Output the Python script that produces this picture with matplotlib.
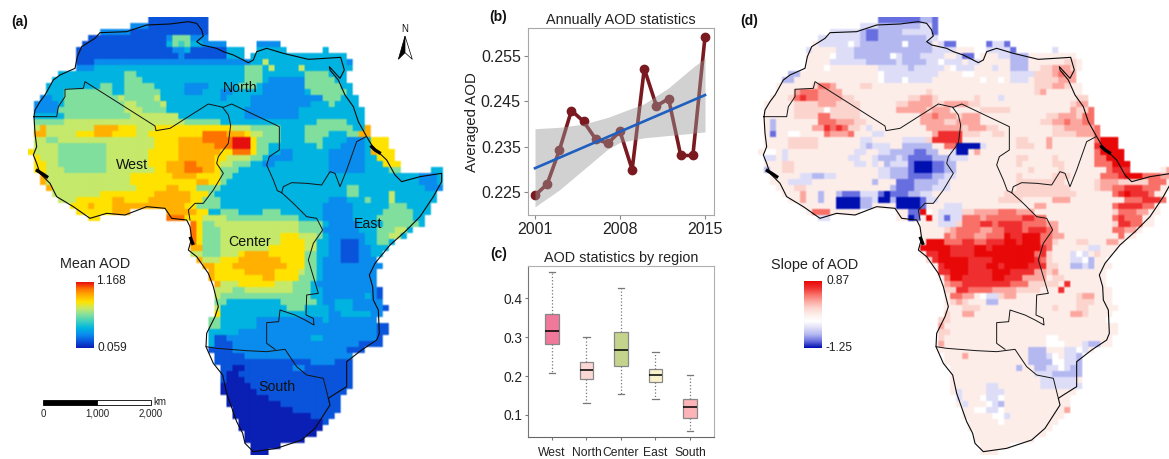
import numpy as np
import matplotlib
matplotlib.use('Agg')
import matplotlib.pyplot as plt
from matplotlib.colors import LinearSegmentedColormap
from matplotlib.patches import Rectangle, Polygon

plt.rcParams['font.family'] = ['Liberation Sans', 'DejaVu Sans']

# Map cells, one string per row. A token is level + count, _N skips N cells
LEVELS_A = "0123456789a"
COLORS_A = ['#0a1fb4', '#0a55dc', '#0a8cee', '#00b4e0', '#3cd0c0', '#80dfa0',
            '#c6e96a', '#ffe400', '#ffb000', '#ff7400', '#e60f10']
LEVELS_D = "ABCDW.12345"
COLORS_D = ['#0010b0', '#6a70e0', '#b4b8f0', '#dedef8', '#ffffff', '#fdeeea',
            '#fcd4ce', '#fca8a0', '#f87068', '#f03030', '#e80808']

ROWS_A = [
    "_20 1x10",
    "_17 2x3 1x10",
    "_12 2x5 1x13",
    "_10 1x13 2x1 5x3 2x3",
    "_9 1x14 3x1 5x1 4x1 5x1 3x2 2x4 _5 2x4",
    "_8 1x16 2x2 3x1 1x6 3x3 _2 3x5 _6 3x1",
    "_8 1x17 2x1 1x7 3x3 _1 3x16",
    "_8 1x3 2x26 3x2 6x1 3x13 2x1",
    "_8 2x3 3x25 5x3 3x1 6x1 3x4 6x1 3x8",
    "_5 3x11 5x2 3x18 5x3 3x7 5x4 3x3",
    "_4 3x12 5x3 3x17 5x3 3x1 2x6 5x5 3x2",
    "_3 3x9 5x2 3x2 5x5 3x5 2x4 3x5 5x3 3x1 2x7 5x6 3x2",
    "_3 3x3 5x8 3x2 5x6 3x4 2x3 3x3 2x2 3x5 2x7 3x1 5x6 3x1",
    "_2 2x2 3x2 5x9 6x1 5x5 6x1 3x10 2x1 3x4 2x12 5x3 3x3",
    "_1 2x4 3x1 5x10 6x2 5x4 6x1 3x9 3x5 2x10 3x3 5x1 3x4",
    "_1 2x4 5x11 6x3 5x4 3x13 2x9 3x11",
    "_1 3x5 5x11 6x8 3x11 2x9 3x11",
    "_1 5x5 6x20 5x6 3x16 5x5 3x3",
    "_1 6x1 8x1 6x8 8x4 7x3 6x3 7x13 6x3 5x5 3x4 5x8 3x2 8x1",
    "_1 8x2 6x5 7x3 8x3 7x4 6x2 7x9 9x4 8x3 7x1 6x2 5x3 3x4 5x4 3x3 5x2 8x2",
    "_1 6x2 5x2 6x10 6x6 7x4 8x4 9x5 ax3 7x1 5x4 3x4 5x3 3x4 2x3 3x1 7x3",
    "_1 6x4 5x8 6x8 7x4 8x6 9x3 ax3 7x1 5x2 3x8 5x1 3x3 2x4 3x1 7x3",
    "7x1 6x4 5x8 6x7 7x5 8x7 7x2 9x3 7x1 5x2 3x2 2x2 3x6 2x6 3x1 8x1 7x3",
    "_1 7x1 6x3 5x8 6x7 7x5 8x6 7x2 6x4 5x2 3x1 2x4 3x6 2x6 3x2 7x3",
    "_1 7x2 6x2 5x8 6x7 7x3 8x3 9x2 8x3 7x1 6x2 5x3 3x2 2x2 3x9 2x6 3x3 7x3",
    "_1 7x2 6x3 5x7 6x8 7x2 8x3 9x3 8x2 7x1 5x3 3x15 2x6 3x4 5x2 _5 3x2",
    "_2 8x1 6x14 7x7 8x4 7x4 5x2 3x31 2x3 3x1",
    "_2 8x1 6x14 7x11 8x2 7x2 5x1 3x32 2x3 3x1",
    "_3 8x1 6x14 7x5 8x2 7x3 5x4 3x21 5x2 3x11 2x3",
    "_4 6x8 7x9 8x6 7x3 5x1 3x22 5x2 3x5 6x1 3x7",
    "_5 6x3 7x6 8x2 7x4 8x7 7x2 5x3 3x18 2x3 3x2 3x1 5x1 3x3 6x1 3x7",
    "_7 7x3 8x1 7x3 8x12 7x2 5x4 3x17 2x5 3x6 5x3 3x4",
    "_8 7x6 8x3 _6 8x5 7x2 3x2 5x3 3x4 5x3 3x7 2x5 3x5 5x5 3x3",
    "_10 7x2 _11 9x3 7x3 6x4 5x12 3x4 2x5 3x4 5x6 3x2",
    "_27 9x1 7x1 5x2 6x14 5x4 3x1 2x5 3x4 5x6 3x1",
    "_27 9x1 7x1 5x3 6x13 5x4 2x6 3x3 5x3 6x2 3x1",
    "_27 9x1 7x1 5x3 6x10 7x3 6x3 5x1 3x1 2x6 3x2 5x2 6x2 3x1",
    "_27 9x1 7x1 5x3 6x10 7x4 6x2 3x2 2x2 1x3 2x1 3x2 5x2 3x1",
    "_27 8x2 5x3 6x8 7x6 6x2 3x2 2x2 1x3 2x2 3x3",
    "_27 6x2 5x3 6x3 7x1 8x4 7x6 5x2 3x2 2x2 1x3 2x2 3x2",
    "_28 8x1 6x3 7x3 8x7 7x4 5x2 3x1 2x3 1x3 2x3",
    "_29 8x2 7x3 8x9 7x3 5x2 3x1 2x10",
    "_30 8x1 7x5 8x5 7x4 6x1 5x2 3x1 2x9",
    "_30 8x1 7x8 8x2 7x4 5x3 3x1 2x9",
    "_31 8x1 6x3 7x6 6x3 5x3 3x1 2x10",
    "_31 6x3 5x2 6x8 5x3 3x2 2x9 1x1",
    "_31 6x1 5x15 3x2 2x7 3x1 2x1 1x1",
    "_31 5x2 3x9 5x6 3x1 2x2 3x3 2x5",
    "_31 6x1 3x11 5x3 3x4 2x1 3x3 2x5 1x1",
    "_31 7x1 3x18 2x2 3x5 2x2",
    "_30 5x2 3x6 2x11 3x1 2x8",
    "_30 5x2 3x6 2x20 1x2",
    "_30 3x5 2x23 1x2",
    "_30 3x1 1x2 2x14 3x2 2x9 1x1",
    "_30 3x1 1x3 2x21 1x4",
    "_30 1x4 2x19 1x3",
    "_31 1x5 2x18",
    "_31 1x16 2x4 1x3",
    "_32 1x2 0x2 1x8 2x2 1x8",
    "_32 1x1 0x2 1x19",
    "_32 1x1 0x3 1x18",
    "_32 0x5 1x17",
    "_32 0x6 1x15",
    "_33 0x7 1x12",
    "_33 0x9 1x10",
    "_34 0x10 1x8",
    "_34 0x13 1x4",
    "_35 0x14 1x1",
    "_35 0x14",
    "_36 0x12",
    "_36 0x10",
    "_37 0x5",
    "_37 0x3",
]

# Panel d uses the same land cells, only cells that differ from the pale base are listed
ROWS_D = [
    "_20 B7 C2 B1",
    "_17 D3 C7 D2 B1",
    "_12 D5 C1 B2 C4 D5 B1",
    "_10 D7 C1 B2 C8 D2",
    "_10 D5 W1 D1 C7 W1 C4 _1 D1 B2 _5 B1 D2 B1",
    "_8 D1 _4 D3 C13 D4 _4 D5 B3 _4 D1",
    "_12 W1 D3 C6 W1 D1 C3 D4 _2 D1 B3 _3 D2 C3",
    "_12 D6 C5 D1 C4 D2 W1 D3 _1 D2 _5 C3 _6 1x2",
    "_11 W1 _8 D5 C1 D5 _1 W1 D3 _3 D1 _2 C3 _2 1x2 2x3 1x1",
    "_5 C2 _13 W1 D9 _4 W2 _6 D4 1x3 2x1 3x1 2x2",
    "_4 C2 _14 W1 D3 W1 D4 _8 W1 _2 W1 _1 D3 _1 1x4 2x3",
    "_9 1x1 3x2 2x1 _4 1x2 _27 1x3 2x2 1x1",
    "_6 2x1 3x3 2x4 _14 1x1 _17 1x1 2x1",
    "_5 1x1 3x1 4x1 3x2 2x4 1x2 _9 1x2 2x2 1x1 _6 1x1 _3 D1 _12 1x2",
    "_6 1x4 2x3 1x4 _6 1x2 2x4 1x2 2x4 1x2 _15 1x1 2x2",
    "_6 1x5 W1 1x5 _6 2x5 1x1 2x3 _5 1x5 _10 2x1 1x2 3x2",
    "_6 1x4 3x2 1x5 _10 2x2 3x1 2x3 1x1 2x3 _11 1x2 2x3 1x1 3x2",
    "_2 C1 _7 3x3 2x3 1x2 _9 2x4 1x2 2x1 2x3 _10 1x2 2x2 3x1 2x2 3x2",
    "_2 C1 _6 2x2 4x1 3x1 4x1 3x1 1x2 _1 D1 _9 2x6 1x1 2x3 1x2 _9 1x2 2x5 3x1 4x1",
    "_2 B1 _2 W2 _4 3x1 2x3 3x1 _3 D2 _8 2x1 4x4 1x3 _2 1x2 _8 1x4 2x3 3x1 4x2",
    "_5 1x5 _7 D2 _5 D4 1x1 4x5 _9 1x2 _3 2x1 _7 3x1 5x3",
    "_5 1x5 _7 D1 C1 D3 _2 C5 _2 3x2 A4 D1 _5 1x3 _2 2x1 _7 4x1 5x3",
    "_1 W2 _1 D1 _11 D2 _2 D2 C4 B2 C2 _2 D1 A2 _1 2x1 _19 3x1 5x4",
    "_1 D2 _1 D1 _10 D2 _2 D1 C3 D1 C1 B4 C3 D3 _8 1x2 _4 1x1 _6 3x2 5x3",
    "_4 1x2 _10 D2 _1 D1 _1 C1 D3 B1 A3 B2 C2 _10 1x1 _5 1x2 _5 3x3 5x3",
    "_1 C1 _2 1x2 _14 D2 C3 B1 A3 B2 C2 _12 1x1 _4 1x1 _7 3x1 4x3 4x1 _5 2x2",
    "_1 C1 _5 D2 C2 D2 _7 D2 C2 C1 B4 C2 D2 _10 1x1 _5 1x3 _5 3x3 4x1 5x3 3x3 2x2",
    "_5 D4 _10 C1 _3 B3 C4 D2 _11 1x8 _5 1x1 2x3 1x5 3x3",
    "_6 1x2 _14 C1 B3 C3 D3 _11 1x9 _4 1x1 2x2 3x2 4x3 3x3",
    "_7 2x1 _2 C1 _2 C1 B3 D3 B1 A1 B3 C2 D2 _12 1x12 _6 3x1 4x1 5x1 4x3 3x1",
    "_7 2x1 _2 C1 _2 A4 C2 D1 A2 C1 A4 B1 D2 _10 1x1 1x3 _5 2x3 _9 3x3 4x3 3x2",
    "_13 A4 C2 _4 A4 B1 _3 D3 _12 2x2 _11 3x1 4x4 3x2",
    "_9 3x3 _13 B2 5x1 W1 _1 D4 1x2 2x4 3x3 2x3 _13 1x1 3x3 2x2",
    "_10 D2 _13 A1 B1 _1 5x1 _1 D1 B1 D2 3x3 2x1 3x6 4x2 3x2 _11 3x1 4x1 3x3",
    "_30 D3 1x1 3x3 4x2 3x1 4x4 3x4 2x2 _9 1x1 4x2 3x2",
    "_31 1x1 2x1 3x4 2x2 3x2 4x3 3x1 4x3 3x1 2x1 _9 3x2 2x2",
    "_31 3x1 2x1 3x3 2x2 3x3 5x1 4x2 5x3 3x2 2x2 _9 3x1",
    "_28 5x3 3x3 4x2 3x2 4x3 5x2 4x1 5x3 3x2 1x1 _3 1x2 _3 2x2",
    "_27 5x5 4x4 5x2 4x1 5x8 4x1 3x1 _6 D2",
    "_28 4x2 5x2 4x4 5x10 3x1 4x1 1x1 _3 D1 W1 D1 _1 1x1",
    "_28 1x1 4x1 5x5 4x4 5x6 5x1 4x1 3x1 1x1 _3 D2 W1 C1",
    "_30 4x1 5x4 4x3 5x2 4x1 5x4 4x3 1x2 _2 C2 D1 C1",
    "_30 4x2 5x3 4x4 5x3 4x4 2x2 1x1 2x1",
    "_31 3x1 5x2 4x5 5x2 4x3 2x4 _1 1x2",
    "_31 2x1 3x2 4x8 3x3 1x5 _1 4x1",
    "_31 1x2 4x2 3x4 2x4 1x4 _3 4x1",
    "_32 3x2 2x2 _1 W1 D2 1x1 2x2 _10 1x1 2x2",
    "_32 1x1 2x1 1x1 _3 C2 _13 1x3",
    "_34 1x3 _12 1x1 _3 1x2",
    "_31 1x1 _2 2x2 _16 2x2 1x1",
    "_30 1x2",
    "_30 2x1",
    "_30 1x2",
    "_30 1x1 _17 W2",
    "_30 2x1 _17 W3 _3 D1 C2",
    "_45 C3 _3 D2 W1 D1",
    "_34 2x1 _10 C3 D1 W1 _1 D2 C1",
    "_45 C4 W2 D2 C2",
    "_43 C1 _2 C2 D2 W1 D1 C2",
    "_46 D3 C5",
    "_47 D6",
    "_38 D2 _7 D7",
    "_33 D1 _4 D3",
    "_33 D1 _3 W1 D2 W1",
    "_34 D1 _3 W1 D1 C1",
    "_36 W2 D2 W1 _10 2x1",
    "_39 W2 D1",
    "_40 W1",
]

# Outlines in map units
COAST = [(102, 350), (105, 330), (120, 305), (135, 285), (160, 240), (180, 225), (225, 205), (232, 170), (245, 140),
         (285, 115), (300, 98), (380, 95), (440, 75), (510, 72), (565, 65), (590, 70), (605, 90), (610, 108), (590, 125),
         (605, 135), (650, 145), (670, 155), (700, 165), (745, 188), (760, 180), (770, 155), (800, 145), (850, 160),
         (925, 178), (975, 175), (1022, 172), (1033, 210), (1020, 235), (988, 200), (990, 210), (1015, 240), (1035, 285),
         (1060, 320), (1075, 365), (1100, 410), (1118, 440), (1160, 480), (1185, 525), (1205, 545), (1260, 530),
         (1325, 520), (1325, 545), (1300, 590), (1260, 650), (1215, 695), (1170, 735), (1125, 790), (1108, 825),
         (1118, 860), (1120, 900), (1135, 930), (1138, 1000), (1130, 1020), (1085, 1050), (1040, 1085), (1040, 1160),
         (1000, 1185), (985, 1195), (990, 1215), (945, 1285), (905, 1320), (830, 1345), (760, 1355), (735, 1330),
         (728, 1300), (710, 1265), (680, 1180), (668, 1125), (640, 1090), (618, 1040), (620, 1000), (645, 950),
         (655, 920), (640, 860), (625, 820), (590, 770), (565, 750), (575, 715), (570, 680), (560, 660), (515, 655),
         (495, 625), (440, 620), (375, 645), (320, 640), (270, 655), (220, 620), (170, 590), (150, 550), (120, 520),
         (110, 490), (100, 465), (110, 440), (105, 400), (102, 350)]
BORDER_WEST_NORTH = [(102, 350), (170, 350), (175, 320), (195, 290), (195, 268), (250, 265), (255, 245), (465, 378),
                     (468, 392), (510, 385), (625, 312), (670, 322), (695, 312), (838, 380), (838, 450), (808, 470),
                     (800, 495), (820, 540), (832, 572), (845, 578)]
BORDER_WEST_CENTER = [(668, 322), (685, 345), (692, 375), (685, 430), (655, 470), (650, 490), (670, 520), (640, 570),
                      (610, 610), (585, 610), (565, 630), (570, 660)]
BORDER_NORTH_EAST = [(1098, 410), (1070, 425), (1040, 510), (1020, 560), (1005, 520), (990, 515), (965, 555),
                     (920, 550), (875, 548), (850, 560), (845, 578)]
BORDER_CENTER_EAST = [(845, 578), (880, 610), (920, 650), (950, 655), (968, 690), (940, 730), (925, 780), (955, 880),
                      (920, 885), (918, 945), (940, 955), (942, 975), (915, 960), (885, 945), (840, 930), (836, 965),
                      (800, 968), (800, 1030), (825, 1048)]
BORDER_SOUTH = [(618, 1040), (650, 1045), (740, 1052), (800, 1055), (855, 1048), (890, 1100), (920, 1125), (970, 1135),
                (985, 1195)]
ISLANDS = [[(112, 512), (125, 520), (140, 530)], [(1115, 440), (1125, 450), (1138, 458)], [(572, 715), (578, 730)]]

REGION_NAMES = ["North", "West", "Center", "East", "South"]
REGION_X = [720, 395, 750, 1105, 830]
REGION_Y = [265, 495, 725, 673, 1162]

# Panel b
YEARS = [2001, 2002, 2003, 2004, 2005, 2006, 2007, 2008, 2009, 2010, 2011, 2012, 2013, 2014, 2015]
AOD_MEAN = [.2243, .2268, .2342, .2430, .2406, .2367, .2358, .2384, .2300, .2522, .2440, .2456, .2331, .2331, .2592]
TREND_YEARS = [2001, 2015]
TREND_VALUES = [.2303, .2464]
BAND_YEARS = [2001, 2003, 2005, 2007, 2008, 2010, 2012, 2014, 2015]
BAND_UP = [.2390, .2393, .2400, .2415, .2425, .2445, .2480, .2525, .2545]
BAND_LOW = [.2218, .2255, .2300, .2345, .2360, .2370, .2375, .2380, .2383]

# Panel c
REGIONS = ["West", "North", "Center", "East", "South"]
WHISK_LOW = [.207, .130, .154, .141, .059]
Q1 = [.282, .193, .227, .185, .091]
MEDIAN = [.317, .215, .266, .203, .120]
Q3 = [.360, .237, .313, .219, .142]
WHISK_HIGH = [.469, .300, .427, .263, .204]
BOX_COLORS = ['#f0789a', '#fcd8d4', '#c4d48c', '#faf2cc', '#fcb4b8']

W, H = 1169, 459


def parse_rows(rows, levels, base=None):
    grid = np.full((len(ROWS_A), 70), np.nan) if base is None else base.copy()
    for r, spec in enumerate(rows):
        col = 0
        for tok in spec.split():
            n = int(tok[1:].lstrip('x'))
            if tok[0] != '_':
                grid[r, col:col + n] = levels.index(tok[0])
            col += n
    return grid


def px_axes(fig, left, top, right, bottom):
    return fig.add_axes([left / W, 1 - bottom / H, (right - left) / W, (bottom - top) / H])


def draw_outlines(ax, dx):
    for line in [BORDER_WEST_NORTH, BORDER_WEST_CENTER, BORDER_NORTH_EAST, BORDER_CENTER_EAST, BORDER_SOUTH]:
        xy = np.array(line)
        ax.plot(xy[:, 0] + dx, xy[:, 1], color='#151515', lw=0.7, solid_joinstyle='round')
    xy = np.array(COAST)
    ax.plot(xy[:, 0] + dx, xy[:, 1], color='#0a0a0a', lw=0.8, solid_joinstyle='round')
    for isl in ISLANDS:
        xy = np.array(isl)
        ax.plot(xy[:, 0] + dx, xy[:, 1], color='black', lw=2.4)


def draw_colorbar(ax, cmap, x0, x1, y0, y1):
    grad = np.linspace(1, 0, 200).reshape(-1, 1)
    ax.imshow(grad, cmap=cmap, vmin=0, vmax=1, extent=(x0, x1, y1, y0), aspect='auto', interpolation='bilinear')


# Each cell is split in 3 so that bilinear only softens its edges, as in the scanned figure
def soft_rgb(grid, cmap):
    rgb = cmap(np.ma.masked_invalid(grid / 10))
    return np.repeat(np.repeat(rgb, 3, axis=0), 3, axis=1)


fig = plt.figure(figsize=(W / 100, H / 100), dpi=100)
bg = fig.add_axes([0, 0, 1, 1])
bg.axis('off')

cmap_a = LinearSegmentedColormap.from_list('aod', COLORS_A)
cmap_d = LinearSegmentedColormap.from_list('slope', COLORS_D)
cmap_a.set_bad('white')
cmap_d.set_bad('white')

grid_a = parse_rows(ROWS_A, LEVELS_A)
mask = np.isnan(grid_a)
base_d = np.where(mask, np.nan, float(LEVELS_D.index('.')))
grid_d = parse_rows(ROWS_D, LEVELS_D, base_d)
grid_d[mask] = np.nan

X0, Y0, CELL = 85, 52, 18
DX = 2190
ext_a = (X0, X0 + 70 * CELL, Y0 + 73 * CELL, Y0)
ext_d = (X0 + DX, X0 + DX + 70 * CELL, Y0 + 73 * CELL, Y0)
bg.imshow(soft_rgb(grid_a, cmap_a), extent=ext_a, aspect='auto', interpolation='bilinear')
bg.imshow(soft_rgb(grid_d, cmap_d), extent=ext_d, aspect='auto', interpolation='bilinear')
draw_outlines(bg, 0)
draw_outlines(bg, DX)

draw_colorbar(bg, cmap_a, 227, 280, 845, 1043)
draw_colorbar(bg, cmap_d, 223 + DX, 275 + DX, 845, 1045)
bg.set_xlim(0, W * 3)
bg.set_ylim(H * 3, 0)

for name, x, y in zip(REGION_NAMES, REGION_X, REGION_Y):
    bg.text(x, y, name, fontsize=10.2, ha='center', va='center', color='#111111')
bg.text(285, 793, "Mean AOD", fontsize=10.4, ha='center', va='center', color='#222222')
bg.text(332, 844, "1.168", fontsize=8.6, ha='center', va='center', color='#222222')
bg.text(337, 1043, "0.059", fontsize=8.6, ha='center', va='center', color='#222222')
bg.text(253 + DX, 796, "Slope of AOD", fontsize=10.4, ha='center', va='center', color='#222222')
bg.text(324 + DX, 844, "0.87", fontsize=8.6, ha='center', va='center', color='#222222')
bg.text(328 + DX, 1043, "-1.25", fontsize=8.6, ha='center', va='center', color='#222222')

for label, x, y in [("(a)", 60, 66), ("(d)", 57 + DX, 64), ("(b)", 115 + 1380, 52), ("(c)", 115 + 1380, 58 + 705)]:
    bg.text(x, y, label, fontsize=10, fontweight='bold', ha='center', va='center', color='#111111')

# scale bar
bg.add_patch(Rectangle((130, 1200), 162, 15, fc='black', ec='black', lw=0.6))
bg.add_patch(Rectangle((292, 1200), 160, 15, fc='white', ec='black', lw=0.6))
for lab, x in [("0", 130), ("1,000", 292), ("2,000", 452)]:
    bg.text(x, 1241, lab, fontsize=7, ha='center', va='center', color='#222222')
bg.text(480, 1206, "km", fontsize=7, ha='center', va='center', color='#222222')

# north arrow
bg.text(1215, 88, "N", fontsize=7, ha='center', va='center', color='#111111')
bg.add_patch(Polygon([(1215, 108), (1195, 178), (1215, 158)], fc='black', ec='black', lw=0.5))
bg.add_patch(Polygon([(1215, 108), (1237, 178), (1215, 158)], fc='white', ec='black', lw=0.5))

# panel b
ax_b = px_axes(fig, 527.7, 28.3, 714, 215)
ax_b.plot(YEARS, AOD_MEAN, color='#7a1a20', lw=2.6, marker='o', ms=6, zorder=2)
ax_b.fill_between(BAND_YEARS, BAND_LOW, BAND_UP, color='#9a9a9a', alpha=0.45, lw=0, zorder=3)
ax_b.plot(TREND_YEARS, TREND_VALUES, color='#1f5fc0', lw=1.9, zorder=4)
ax_b.set_xlim(2000.4, 2015.74)
ax_b.set_ylim(.2200, .2611)
ax_b.set_xticks([2001, 2008, 2015])
ax_b.set_yticks([.225, .235, .245, .255])
ax_b.set_yticklabels(["0.225", "0.235", "0.245", "0.255"])
ax_b.tick_params(labelsize=11.5, length=3, color='#888888', labelcolor='#222222', pad=2)
ax_b.set_ylabel("Averaged AOD", fontsize=10.8, color='#222222', labelpad=1)
ax_b.set_title("Annually AOD statistics", fontsize=10.4, color='#222222', pad=3)
for s in ax_b.spines.values():
    s.set_color('#a8a8a8')

# panel c
ax_c = px_axes(fig, 528.3, 265.7, 714, 437.3)
stats = []
for i in range(len(REGIONS)):
    stats.append({'whislo': WHISK_LOW[i], 'q1': Q1[i], 'med': MEDIAN[i], 'q3': Q3[i], 'whishi': WHISK_HIGH[i],
                  'fliers': [], 'label': REGIONS[i]})
boxes = ax_c.bxp(stats, widths=0.4, patch_artist=True, showfliers=False,
                 boxprops=dict(edgecolor='#888888', lw=0.9),
                 medianprops=dict(color='black', lw=1.1),
                 whiskerprops=dict(color='#777777', lw=0.9, ls=':'),
                 capprops=dict(color='#777777', lw=0.9))
for b, c in zip(boxes['boxes'], BOX_COLORS):
    b.set_facecolor(c)
ax_c.set_xlim(.314, 5.696)
ax_c.set_ylim(.0426, .484)
ax_c.set_yticks([.1, .2, .3, .4])
ax_c.set_yticklabels(["0.1", "0.2", "0.3", "0.4"])
ax_c.tick_params(axis='y', labelsize=9.9, length=2, color='#777777', labelcolor='#222222', pad=2)
ax_c.tick_params(axis='x', labelsize=8.7, length=2, color='#777777', labelcolor='#222222', pad=5)
ax_c.set_title("AOD statistics by region", fontsize=10.4, color='#222222', pad=3)
ax_c.spines['top'].set_color('#b0b0b0')
ax_c.spines['right'].set_color('#b0b0b0')
ax_c.spines['left'].set_color('#777777')
ax_c.spines['bottom'].set_color('#666666')

plt.savefig('out.png', dpi=100)
